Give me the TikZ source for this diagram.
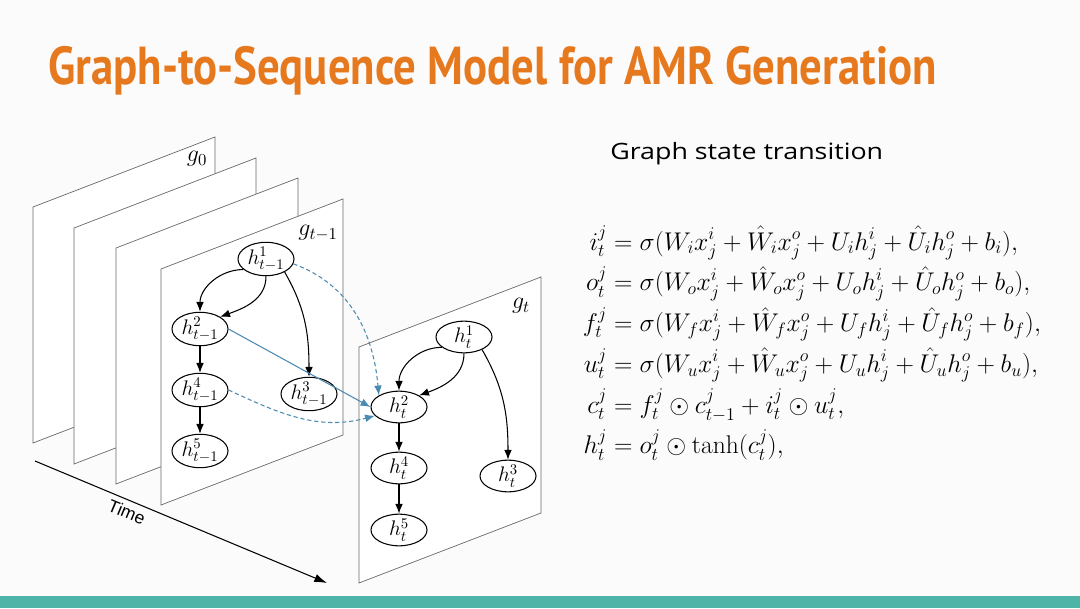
\RequirePackage{fix-cm}
\documentclass[tikz,border=0pt]{standalone}
\usepackage{amsmath,amssymb}
\usepackage{fontspec}
\usepackage{xcolor}
\usetikzlibrary{positioning,shapes.geometric,arrows.meta}
\newfontfamily\titlefont{PT Sans}
\newfontfamily\slidefont{Open Sans}
\newfontfamily\axisfont{Liberation Sans}
\definecolor{titleorange}{RGB}{230,120,30}
\definecolor{barteal}{RGB}{78,180,168}
\definecolor{crossblue}{RGB}{75,138,178}
\definecolor{slidebg}{RGB}{251,251,251}
\definecolor{planegray}{RGB}{105,105,105}

\begin{document}
\begin{tikzpicture}[x=0.025cm, y=0.025cm,
  every node/.style={font=\fontsize{15}{17}\selectfont},
  plane/.style={draw=planegray, fill=white, line width=0.5pt},
  hnode/.style={ellipse, draw, fill=white, line width=0.75pt,
                minimum width=1.4cm, minimum height=0.6cm, inner sep=0pt},
  glabel/.style={font=\fontsize{17}{19}\selectfont},
  arr/.style={-{Latex[length=7pt,width=5.5pt]}, line width=0.75pt},
  xarr/.style={-{Latex[length=7pt,width=5.5pt]}, line width=0.75pt, crossblue},
  xdash/.style={xarr, dash pattern=on 3pt off 2pt},
]
\fill[slidebg] (0,0) rectangle (1080,608);
\fill[barteal] (0,0) rectangle (1080,12);
\useasboundingbox (0,0) rectangle (1080,608);
\node[anchor=base west, inner sep=0, text=titleorange,
      font=\titlefont\bfseries\fontsize{38}{40}\selectfont] (title) at (48,523)
      {\resizebox{22.2cm}{\height}{Graph-to-Sequence Model for AMR Generation}};
\node[anchor=base west, inner sep=0, font=\slidefont\fontsize{16}{19}\selectfont] (subtitle) at (610,448)
      {\resizebox{6.82cm}{\height}{Graph state transition}};
\coordinate (t0) at (35,147);
\coordinate (t1) at (327,25);
\draw[-{Latex[length=9pt,width=6pt]}, line width=0.75pt] (t0) -- node[sloped, below, pos=0.33, font=\axisfont\fontsize{12.5}{14}\selectfont] (tlabel) {Time} (t1);
\draw[plane] (33,401)  -- ++(182,70) -- ++(0,-236) -- ++(-182,-70) -- cycle;
\draw[plane] (74,380)  -- ++(182,70) -- ++(0,-236) -- ++(-182,-70) -- cycle;
\draw[plane] (116,360) -- ++(182,70) -- ++(0,-236) -- ++(-182,-70) -- cycle;
\draw[plane] (161,339) -- ++(182,70) -- ++(0,-236) -- ++(-182,-70) -- cycle;
\draw[plane] (359,261) -- ++(182,70) -- ++(0,-236) -- ++(-182,-70) -- cycle;
\node[glabel] (g0)    at (197,449) {$g_0$};
\node[glabel] (gprev) at (318,375) {$g_{t-1}$};
\node[glabel] (gcur)  at (521,302) {$g_t$};
\node[hnode] (h1p) at (266,349) {$h^1_{t-1}$};
\node[hnode] (h2p) at (200,279) {$h^2_{t-1}$};
\node[hnode] (h3p) at (309,214) {$h^3_{t-1}$};
\node[hnode] (h4p) at (200,218) {$h^4_{t-1}$};
\node[hnode] (h5p) at (200,157) {$h^5_{t-1}$};
\node[hnode] (h1c) at (464,271) {$h^1_t$};
\node[hnode] (h2c) at (399,201) {$h^2_t$};
\node[hnode] (h3c) at (508,132) {$h^3_t$};
\node[hnode] (h4c) at (399,140) {$h^4_t$};
\node[hnode] (h5c) at (399,78)  {$h^5_t$};
\draw[arr] (h1p.205) to[out=180,in=90] (h2p.north);
\draw[arr] (h1p.south) to[out=-90,in=20] (h2p.north east);
\draw[arr] (h1p.-35) to[out=-60,in=90] (h3p.north);
\draw[arr] (h2p) -- (h4p);
\draw[arr] (h4p) -- (h5p);
\draw[arr] (h1c.205) to[out=180,in=90] (h2c.north);
\draw[arr] (h1c.south) to[out=-90,in=20] (h2c.north east);
\draw[arr] (h1c.-35) to[out=-60,in=90] (h3c.north);
\draw[arr] (h2c) -- (h4c);
\draw[arr] (h4c) -- (h5c);
\draw[xarr] (h2p.east) -- (h2c.west);
\draw[xdash] (h1p.-10) to[out=-20,in=95] (h2c.north west);
\draw[xdash] (h4p.east) to[out=-25,in=195] (h2c.200);
\node[anchor=west, font=\fontsize{18.2}{25}\selectfont] (eqs) at (578,263) {\setlength{\jot}{4pt}$\begin{aligned}
i_t^j &= \sigma(W_i x_j^i + \hat{W}_i x_j^o + U_i h_j^i + \hat{U}_i h_j^o + b_i),\\
o_t^j &= \sigma(W_o x_j^i + \hat{W}_o x_j^o + U_o h_j^i + \hat{U}_o h_j^o + b_o),\\
f_t^j &= \sigma(W_f x_j^i + \hat{W}_f x_j^o + U_f h_j^i + \hat{U}_f h_j^o + b_f),\\
u_t^j &= \sigma(W_u x_j^i + \hat{W}_u x_j^o + U_u h_j^i + \hat{U}_u h_j^o + b_u),\\
c_t^j &= f_t^j \odot c_{t-1}^j + i_t^j \odot u_t^j,\\
h_t^j &= o_t^j \odot \tanh(c_t^j),
\end{aligned}$};
\end{tikzpicture}
\end{document}
